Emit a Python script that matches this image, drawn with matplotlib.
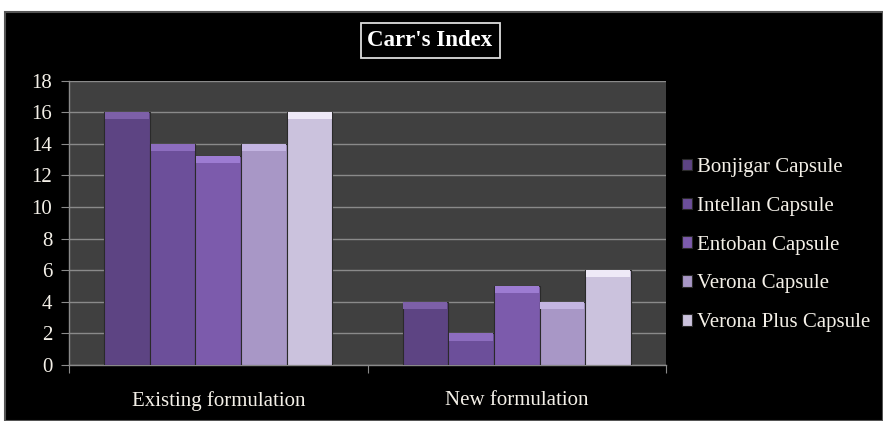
import numpy as np
import matplotlib
matplotlib.use("Agg")
import matplotlib.pyplot as plt
from matplotlib.patches import Rectangle

# ----------------------------
# Data (Carr's Index)
# ----------------------------
groups = ["Existing formulation", "New formulation"]
products = ["Bonjigar Capsule", "Intellan Capsule", "Entoban Capsule",
            "Verona Capsule", "Verona Plus Capsule"]
bonjigar = [16, 4]
intellan = [14, 2]
entoban = [13.2, 5]
verona = [14, 4]
verona_plus = [16, 6]
yticks = [0, 2, 4, 6, 8, 10, 12, 14, 16, 18]

series = [bonjigar, intellan, entoban, verona, verona_plus]
colors = ["#5d4483", "#6c4f9a", "#7c5bac", "#a897c6", "#cbc2dd"]
caps = ["#7d60a8", "#8d6dbf", "#9d7cd2", "#c4b5e2", "#eee9f7"]

plt.rcParams.update({
    "font.family": ["Liberation Serif", "DejaVu Serif"],
    "font.size": 15,
})

fig = plt.figure(figsize=(8.83, 4.21), dpi=100, facecolor="white")

# black chart frame
fig.patches.append(Rectangle((5 / 883, 0), 1 - 5 / 883, 1 - 12 / 421,
                             transform=fig.transFigure, facecolor="black",
                             edgecolor="#555555", linewidth=1.5, zorder=-5))

ax = fig.add_axes([69 / 883, 1 - 365 / 421, (666 - 69) / 883, (365 - 80.5) / 421])
ax.set_facecolor("#404040")

x = np.arange(len(groups))
BAR_W = 0.153
offsets = (np.arange(len(products)) - 2) * BAR_W
cap_h = 0.45

for vals, off, c, cc, name in zip(series, offsets, colors, caps, products):
    vals = np.array(vals, dtype=float)
    ax.bar(x + off, vals, width=BAR_W, color=c, edgecolor="#2a2a2a",
           linewidth=0.8, label=name, zorder=3)
    ax.bar(x + off, cap_h, bottom=vals - cap_h, width=BAR_W * 0.96,
           color=cc, linewidth=0, zorder=4)

ax.set_ylim(0, 18)
ax.set_xlim(-0.5, 1.5)
ax.set_yticks(yticks)
ax.yaxis.grid(True, color="#8a8a8a", linewidth=1.0, zorder=1)
ax.set_axisbelow(True)

ax.set_xticks([-0.5, 0.5, 1.5])
ax.set_xticklabels([])
ax.set_xticks(x, minor=True)
ax.set_xticklabels(groups, minor=True, color="#f4f0e8", fontsize=15)
ax.tick_params(axis="x", which="minor", length=0, pad=19)
ax.tick_params(axis="x", which="major", length=6, color="#8a8a8a", direction="out")
ax.tick_params(axis="y", length=6, color="#8a8a8a", labelcolor="#f4f0e8",
               labelsize=15, pad=6)

for s in ["top", "right"]:
    ax.spines[s].set_visible(False)
for s in ["left", "bottom"]:
    ax.spines[s].set_color("#8a8a8a")
    ax.spines[s].set_linewidth(1.0)

fig.text(0.487, 0.903, "Carr's Index", ha="center", va="center",
         fontsize=16.5, fontweight="bold", color="white",
         bbox=dict(boxstyle="square,pad=0.3", facecolor="black",
                   edgecolor="#dddddd", linewidth=1.3))

leg = fig.legend(loc="center left", bbox_to_anchor=(0.772, 0.418),
                 frameon=False, borderpad=0, borderaxespad=0,
                 handlelength=0.48, handleheight=0.48,
                 handletextpad=0.25, labelspacing=0.95, fontsize=15)
for t in leg.get_texts():
    t.set_color("#f4f0e8")

fig.savefig("out.png", dpi=100, facecolor="white")
